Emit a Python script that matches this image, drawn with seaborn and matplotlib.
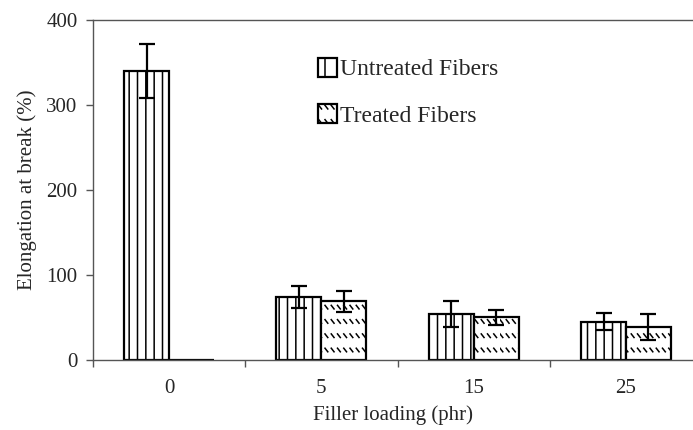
import warnings
import numpy as np
import pandas as pd
import matplotlib
matplotlib.use("Agg")
import matplotlib.pyplot as plt
import matplotlib.hatch as mhatch
from matplotlib.path import Path
import seaborn as sns
from matplotlib.patches import Patch

warnings.filterwarnings("ignore")

# data
loading = ["0", "5", "15", "25"]
untreated = [340, 74, 54, 45]
untreated_err = [32, 13, 15, 10]
treated = [0, 69, 50, 39]
treated_err = [0, 12, 9, 15]
groups = ["Untreated Fibers", "Treated Fibers"]

df = pd.DataFrame({
    "loading": loading * 2,
    "value": untreated + treated,
    "type": [groups[0]] * 4 + [groups[1]] * 4,
})


# rows of short "\" dashes, like the old excel fill pattern (hatch char 'd')
class DashHatch(mhatch.HatchPatternBase):
    def __init__(self, hatch, density):
        self.rows = 7 if "d" in hatch else 0
        self.cols = 16
        self.num_vertices = self.rows * self.cols * 2

    def set_vertices_and_codes(self, vertices, codes):
        k = 0
        for i in range(self.rows):
            y = (i + 0.5) / self.rows
            for j in range(self.cols):
                x = j / self.cols
                vertices[k] = (x, y + 0.018)
                vertices[k + 1] = (x + 0.028, y - 0.018)
                codes[k] = Path.MOVETO
                codes[k + 1] = Path.LINETO
                k += 2


mhatch._hatch_types.append(DashHatch)

sns.set_style("ticks")
plt.rcParams["font.family"] = ["Liberation Serif", "DejaVu Serif"]
plt.rcParams["hatch.linewidth"] = 1.1

fig = plt.figure(figsize=(6.93, 4.3), dpi=100)
ax = fig.add_axes([0.134, 0.1628, 0.866, 0.7907])

sns.barplot(data=df, x="loading", y="value", hue="type", order=loading,
            hue_order=groups, width=0.59, errorbar=None, legend=False,
            palette=["white", "white"], edgecolor="black", linewidth=1.6,
            ax=ax)

hatches = ["||", "d"]
errs = [untreated_err, treated_err]
for cont, h, err in zip(ax.containers, hatches, errs):
    xs = []
    ys = []
    for bar in cont:
        bar.set_hatch(h)
        bar.set_edgecolor("black")
        bar.set_facecolor("white")
        xs.append(bar.get_x() + bar.get_width() / 2)
        ys.append(bar.get_height())
    e = np.array(err, dtype=float)
    mask = e > 0
    ax.errorbar(np.array(xs)[mask], np.array(ys)[mask], yerr=e[mask], fmt="none",
                ecolor="black", elinewidth=1.6, capsize=5.5, capthick=1.6, zorder=5)

ax.set_ylim(0, 400)
ax.set_yticks([0, 100, 200, 300, 400])
ax.set_xlim(-0.5, 3.44)
ax.set_xticks(range(4))
ax.set_xticklabels(loading)
ax.set_xticks([-0.5, 0.5, 1.5, 2.5], minor=True)
ax.tick_params(axis="x", which="major", length=0, pad=14, labelsize=15)
ax.tick_params(axis="x", which="minor", length=5, width=1, color="#555555")
ax.tick_params(axis="y", length=5, width=1, color="#555555", labelsize=15, pad=6)
for s in ["left", "bottom", "top"]:
    ax.spines[s].set_color("#555555")
    ax.spines[s].set_linewidth(1)
ax.spines["right"].set_visible(False)

ax.set_xlabel("Filler loading (phr)", fontsize=15, labelpad=5)
ax.set_ylabel("Elongation at break (%)", fontsize=15, labelpad=7)

handles = [Patch(facecolor="white", edgecolor="black", hatch=h, linewidth=1.6)
           for h in ["|", "d"]]
ax.legend(handles, groups, loc="upper left", bbox_to_anchor=(0.375, 0.889),
          frameon=False, fontsize=17, borderpad=0, borderaxespad=0,
          handlelength=0.8, handleheight=0.85, handletextpad=0.15,
          labelspacing=1.0)

fig.savefig("out.png", dpi=100)
